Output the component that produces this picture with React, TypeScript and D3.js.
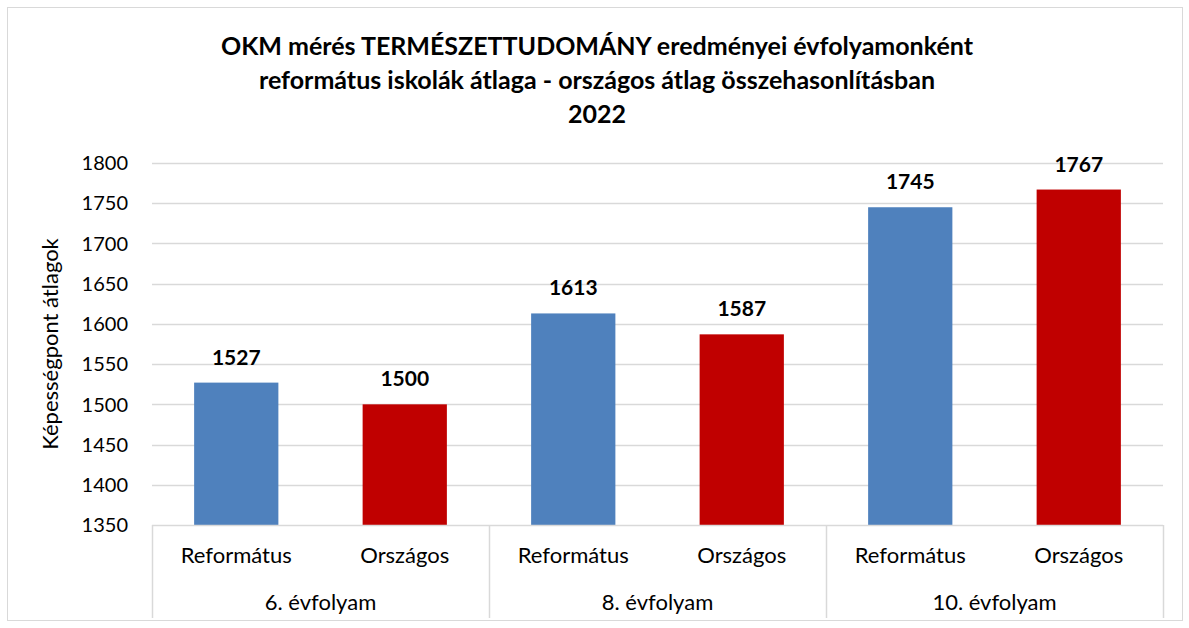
import React from 'react'
import * as d3 from 'd3'

const groups = ['6. évfolyam', '8. évfolyam', '10. évfolyam']
const seriesNames = ['Református', 'Országos']
const reformatus = [1527, 1613, 1745]
const orszagos = [1500, 1587, 1767]
const yTicks = [1350, 1400, 1450, 1500, 1550, 1600, 1650, 1700, 1750, 1800]
const titleLines = [
    'OKM mérés TERMÉSZETTUDOMÁNY eredményei évfolyamonként',
    'református iskolák átlaga - országos átlag összehasonlításban',
    '2022',
]
const colors = ['#4F81BD', '#C00000']

const W = 1189
const H = 628
const FONT = 'Lato, "Open Sans", sans-serif'

export default function App() {
    const [left, right, top, bottom] = [152, 1163, 163, 525]

    const y = d3.scaleLinear().domain([1350, 1800]).range([bottom, top])
    const x0 = d3.scaleBand().domain(groups).range([left, right]).padding(0)
    const x1 = d3
        .scaleBand()
        .domain(seriesNames)
        .range([0, x0.bandwidth()])
        .paddingInner(0.5)
        .paddingOuter(0.25)

    const rows = groups.map((g, i) => ({
        group: g,
        values: [reformatus[i], orszagos[i]],
    }))

    return (
        <div style={{ position: 'absolute', left: 0, top: 0 }}>
            <svg width={W} height={H} fontFamily={FONT}>
                <rect x={0} y={0} width={W} height={H} fill='white' />
                <rect
                    x={7.5}
                    y={7.5}
                    width={1175}
                    height={613}
                    fill='none'
                    stroke='#D9D9D9'
                />
                {titleLines.map((t, i) => (
                    <text
                        key={t}
                        x={597}
                        y={55 + i * 34}
                        textAnchor='middle'
                        fontSize={25}
                        fontWeight='bold'
                        fill='#000'
                    >
                        {t}
                    </text>
                ))}
                {/* gridlines + y labels */}
                {yTicks.map(t => (
                    <g key={t}>
                        {t > 1350 && (
                            <line
                                x1={left}
                                x2={right}
                                y1={Math.round(y(t)) + 0.5}
                                y2={Math.round(y(t)) + 0.5}
                                stroke='#D9D9D9'
                                strokeWidth={1.5}
                            />
                        )}
                        <text
                            x={128}
                            y={y(t)}
                            dy='0.36em'
                            textAnchor='end'
                            fontSize={20}
                            fill='#000'
                        >
                            {t}
                        </text>
                    </g>
                ))}
                <text
                    transform={`translate(58, ${(top + bottom) / 2}) rotate(-90)`}
                    textAnchor='middle'
                    fontSize={22}
                    fill='#000'
                >
                    Képességpont átlagok
                </text>
                {/* bars */}
                {rows.map(r => (
                    <g key={r.group} transform={`translate(${x0(r.group)},0)`}>
                        {r.values.map((v, j) => {
                            const bx = x1(seriesNames[j]) as number
                            return (
                                <g key={j}>
                                    <rect
                                        x={bx}
                                        y={y(v)}
                                        width={x1.bandwidth()}
                                        height={bottom - y(v)}
                                        fill={colors[j]}
                                    />
                                    <text
                                        x={bx + x1.bandwidth() / 2}
                                        y={y(v) - 18}
                                        textAnchor='middle'
                                        fontSize={21}
                                        fontWeight='bold'
                                        fill='#000'
                                    >
                                        {v}
                                    </text>
                                    <text
                                        x={bx + x1.bandwidth() / 2}
                                        y={563}
                                        textAnchor='middle'
                                        fontSize={22}
                                        fill='#000'
                                    >
                                        {seriesNames[j]}
                                    </text>
                                </g>
                            )
                        })}
                        <text
                            x={x0.bandwidth() / 2}
                            y={610}
                            textAnchor='middle'
                            fontSize={22}
                            fill='#000'
                        >
                            {r.group}
                        </text>
                    </g>
                ))}
                {/* category axis box */}
                <line
                    x1={left}
                    x2={right}
                    y1={bottom + 0.5}
                    y2={bottom + 0.5}
                    stroke='#D9D9D9'
                    strokeWidth={1.5}
                />
                {[...groups.map(g => x0(g) as number), right].map(xx => (
                    <line
                        key={xx}
                        x1={Math.round(xx) + 0.5}
                        x2={Math.round(xx) + 0.5}
                        y1={bottom}
                        y2={618}
                        stroke='#D9D9D9'
                        strokeWidth={1.5}
                    />
                ))}
            </svg>
        </div>
    )
}
